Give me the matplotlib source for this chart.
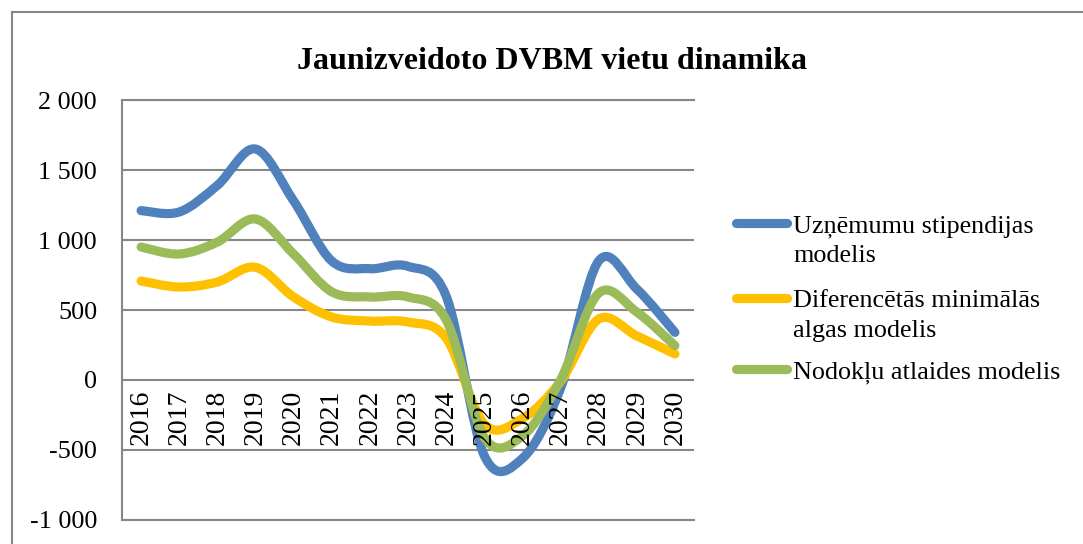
import numpy as np
import matplotlib
matplotlib.use("Agg")
import matplotlib.pyplot as plt
from matplotlib.path import Path
from matplotlib.patches import PathPatch
from matplotlib.lines import Line2D
from matplotlib.ticker import FuncFormatter

plt.rcParams['font.family'] = ['Liberation Serif', 'DejaVu Serif']

# data
years = ['2016', '2017', '2018', '2019', '2020', '2021', '2022', '2023',
         '2024', '2025', '2026', '2027', '2028', '2029', '2030']
stipendijas = [1210, 1200, 1390, 1650, 1280, 850, 795, 812, 600, -540, -560, -60, 850, 650, 340]
min_algas = [707, 664, 700, 805, 593, 450, 421, 414, 300, -315, -275, -10, 435, 315, 186]
atlaides = [950, 900, 985, 1150, 900, 630, 593, 593, 430, -410, -400, 0, 620, 485, 245]

labels = [['Uzņēmumu stipendijas', 'modelis'],
          ['Diferencētās minimālās', 'algas modelis'],
          ['Nodokļu atlaides modelis']]
colors = ['#4F81BD', '#FFC000', '#9BBB59']
title = 'Jaunizveidoto DVBM vietu dinamika'

FS = 18.8
GRID = '#868686'
LW = 6.6


def smooth_path(x, y):
    # Excel-like smoothed line: catmull-rom as cubic bezier segments
    pts = np.column_stack([x, y]).astype(float)
    n = len(pts)
    verts = [pts[0]]
    codes = [Path.MOVETO]
    for i in range(n - 1):
        p0 = pts[i - 1] if i > 0 else pts[i]
        p1 = pts[i]
        p2 = pts[i + 1]
        p3 = pts[i + 2] if i + 2 < n else pts[i + 1]
        c1 = p1 + (p2 - p0) / 6.0
        c2 = p2 - (p3 - p1) / 6.0
        verts += [c1, c2, p2]
        codes += [Path.CURVE4] * 3
    return Path(verts, codes)


fig = plt.figure(figsize=(10.83, 5.44), dpi=100)
ax = fig.add_axes([122 / 1083, 1 - 520 / 544, (694 - 122) / 1083, 420 / 544])

x = np.arange(len(years))
for vals, c in zip([stipendijas, min_algas, atlaides], colors):
    patch = PathPatch(smooth_path(x, vals), facecolor='none', edgecolor=c,
                      lw=LW, capstyle='round', joinstyle='round')
    ax.add_patch(patch)

ax.set_xlim(-0.5, len(years) - 0.5)
ax.set_ylim(-1000, 2000)
ax.set_yticks(np.arange(-1000, 2001, 500))
ax.yaxis.set_major_formatter(FuncFormatter(
    lambda v, p: ('-' if v < 0 else '') + f"{abs(int(v)):,}".replace(',', ' ')))
ax.set_xticks([])
ax.tick_params(axis='y', length=0, pad=18, labelsize=FS)
ax.yaxis.grid(True, color=GRID, lw=1.5)
ax.set_axisbelow(True)
ax.spines['right'].set_visible(False)
for s in ['left', 'top', 'bottom']:
    ax.spines[s].set_color(GRID)
    ax.spines[s].set_linewidth(1.5)

# category labels hang under the zero line
for i, yr in enumerate(years):
    ax.annotate(yr, (i, 0), xytext=(0, -7), textcoords='offset points',
                rotation=90, ha='center', va='top', fontsize=20)

fig.text(552 / 1083, 1 - 69 / 544, title, ha='center', va='baseline',
         fontsize=23, fontweight='bold')

# legend drawn by hand so the swatch sits on the first text line
baselines = [[232, 262], [307, 337], [378]]
for lab, c, bl in zip(labels, colors, baselines):
    yh = 1 - (bl[0] - 9) / 544
    fig.add_artist(Line2D([736 / 1083, 787 / 1083], [yh, yh], color=c, lw=LW,
                          solid_capstyle='round', transform=fig.transFigure))
    for line, b in zip(lab, bl):
        fig.text(793 / 1083, 1 - b / 544, line, ha='left', va='baseline', fontsize=FS)

# chart frame (left and top edges visible)
fy = 1 - 12 / 544
fx = 12 / 1083
fig.add_artist(Line2D([fx, fx], [0, fy], color=GRID, lw=1.5, transform=fig.transFigure))
fig.add_artist(Line2D([fx, 1], [fy, fy], color=GRID, lw=1.5, transform=fig.transFigure))

fig.savefig('out.png', dpi=100)
